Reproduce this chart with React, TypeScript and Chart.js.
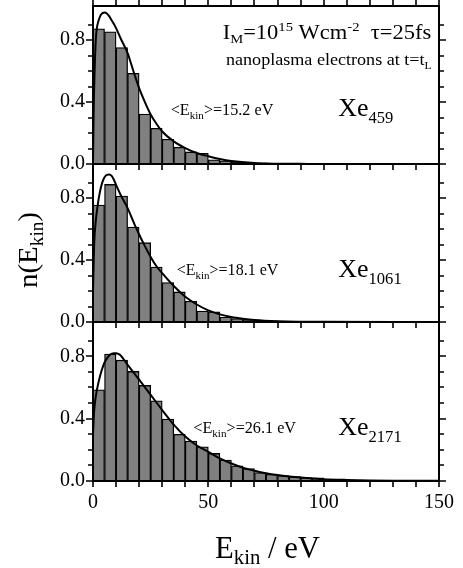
import React, { useEffect, useRef } from 'react';
import { Chart, registerables } from 'chart.js';

Chart.register(...registerables);

const FONT = "'Liberation Serif', 'Times New Roman', Times, serif";
const W = 463;
const H = 568;

// ---------- data ----------
const binCenters = [2.5, 7.5, 12.5, 17.5, 22.5, 27.5, 32.5, 37.5, 42.5, 47.5, 52.5, 57.5, 62.5, 67.5, 72.5, 77.5, 82.5, 87.5, 92.5, 97.5, 102.5, 107.5, 112.5, 117.5, 122.5, 127.5, 132.5, 137.5, 142.5, 147.5];

const histXe459 = [0.873, 0.854, 0.752, 0.585, 0.323, 0.23, 0.16, 0.108, 0.078, 0.069, 0.027, 0.021, 0.012, 0.007, 0.005, 0.004, 0.003, 0.002, 0.002, 0.001, 0.001, 0, 0, 0, 0, 0, 0, 0, 0, 0];
const histXe1061 = [0.755, 0.888, 0.813, 0.613, 0.512, 0.355, 0.254, 0.194, 0.134, 0.071, 0.066, 0.032, 0.022, 0.016, 0.011, 0.008, 0.006, 0.005, 0.004, 0.003, 0.002, 0.002, 0.001, 0.001, 0.001, 0, 0, 0, 0, 0];
const histXe2171 = [0.585, 0.815, 0.775, 0.703, 0.613, 0.514, 0.398, 0.299, 0.256, 0.219, 0.177, 0.134, 0.097, 0.08, 0.054, 0.043, 0.035, 0.028, 0.022, 0.02, 0.009, 0.007, 0.005, 0.004, 0.003, 0.002, 0.002, 0.001, 0.001, 0.001];

const fitE459 = [0, 0.3, 0.7, 1.2, 1.6, 2.5, 3.5, 5, 6, 7, 8, 10, 12, 15, 17.5, 20, 22.5, 25, 27.5, 30, 35, 40, 45, 50, 55, 60, 70, 80, 90, 100, 150];
const fitN459 = [0, 0.35, 0.6, 0.8, 0.87, 0.93, 0.965, 0.978, 0.972, 0.955, 0.93, 0.877, 0.81, 0.716, 0.6, 0.49, 0.4, 0.32, 0.26, 0.21, 0.146, 0.103, 0.071, 0.05, 0.032, 0.019, 0.006, 0.002, 0.001, 0, 0];

const fitE1061 = [0, 0.5, 1, 2, 3, 4, 5, 6, 7, 8, 9, 10, 12, 15, 18, 20, 22.5, 25, 27.5, 30, 35, 40, 45, 50, 55, 60, 65, 70, 80, 90, 100, 150];
const fitN1061 = [0.2, 0.5, 0.62, 0.75, 0.84, 0.9, 0.935, 0.95, 0.953, 0.945, 0.92, 0.885, 0.82, 0.735, 0.63, 0.565, 0.49, 0.42, 0.36, 0.315, 0.232, 0.163, 0.113, 0.075, 0.049, 0.032, 0.021, 0.013, 0.005, 0.002, 0.001, 0];

const fitE2171 = [0, 0.5, 1, 1.7, 3, 4, 5, 6, 7, 8, 9, 10, 11, 12, 15, 20, 25, 30, 35, 40, 45, 50, 55, 60, 65, 70, 75, 80, 85, 90, 100, 110, 120, 130, 150];
const fitN2171 = [0.3, 0.45, 0.52, 0.585, 0.67, 0.72, 0.76, 0.785, 0.805, 0.815, 0.82, 0.82, 0.815, 0.805, 0.745, 0.65, 0.553, 0.455, 0.362, 0.285, 0.228, 0.187, 0.145, 0.112, 0.085, 0.066, 0.05, 0.038, 0.029, 0.022, 0.012, 0.007, 0.004, 0.002, 0.001];

const yLabeledTicks = [0, 0.4, 0.8];
const yTickLabels = ['0.0', '0.4', '0.8'];
const xLabeledTicks = [0, 50, 100, 150];
const xTickLabels = ['0', '50', '100', '150'];

// ---------- text helpers ----------
type Seg = [string, number, number]; // text, font size, baseline shift (down +)
interface TextBox { segs: Seg[]; x: number; y: number; len: number; rot?: boolean }

function drawRich(ctx: CanvasRenderingContext2D, b: TextBox) {
  const widths = b.segs.map(([t, s]) => {
    ctx.font = `${s}px ${FONT}`;
    return ctx.measureText(t).width;
  });
  const natural = widths.reduce((a, c) => a + c, 0);
  const sx = b.len / natural;
  ctx.save();
  ctx.translate(b.x, b.y);
  if (b.rot) ctx.rotate(-Math.PI / 2);
  ctx.fillStyle = '#000';
  ctx.textAlign = 'left';
  ctx.textBaseline = 'alphabetic';
  let cx = 0;
  b.segs.forEach(([t, s, dy], i) => {
    ctx.save();
    ctx.font = `${s}px ${FONT}`;
    ctx.translate(cx, dy);
    ctx.scale(sx, 1);
    ctx.fillText(t, 0, 0);
    ctx.restore();
    cx += widths[i] * sx;
  });
  ctx.restore();
}

const ekin = (v: string): Seg[] => [['<E', 16, 0], ['kin', 11, 4], [`>=${v} eV`, 16, 0]];
const xe = (n: string): Seg[] => [['Xe', 25, 0], [n, 16, 7]];

interface Panel {
  top: number;
  bottom: number;
  hist: number[];
  fitE: number[];
  fitN: number[];
  texts: TextBox[];
  isFirst: boolean;
  isLast: boolean;
}

const panels: Panel[] = [
  {
    top: 6, bottom: 164, hist: histXe459, fitE: fitE459, fitN: fitN459, isFirst: true, isLast: false,
    texts: [
      { segs: [['I', 20, 0], ['M', 13, 4], ['=10', 20, 0], ['15', 13, -8], [' Wcm', 20, 0], ['-2', 13, -8], ['  \u03c4=25fs', 20, 0]], x: 222.7, y: 39.3, len: 208.5 },
      { segs: [['nanoplasma electrons at t=t', 17, 0], ['L', 11, 4]], x: 226, y: 65, len: 205.7 },
      { segs: ekin('15.2'), x: 170.7, y: 115, len: 102.6 },
      { segs: xe('459'), x: 338.3, y: 116, len: 55 },
    ],
  },
  {
    top: 164, bottom: 322, hist: histXe1061, fitE: fitE1061, fitN: fitN1061, isFirst: false, isLast: false,
    texts: [
      { segs: ekin('18.1'), x: 176.7, y: 275, len: 101.6 },
      { segs: xe('1061'), x: 338.3, y: 276.7, len: 63.4 },
    ],
  },
  {
    top: 322, bottom: 481, hist: histXe2171, fitE: fitE2171, fitN: fitN2171, isFirst: false, isLast: true,
    texts: [
      { segs: ekin('26.1'), x: 193.3, y: 433, len: 102.7 },
      { segs: xe('2171'), x: 338.3, y: 435, len: 63.4 },
      { segs: [['E', 31, 0], ['kin', 21, 6], [' / eV', 31, 0]], x: 215, y: 558, len: 105 },
      { segs: [['n(E', 27, 0], ['kin', 18, 6], [')', 27, 0]], x: 36.5, y: 288, len: 76, rot: true },
    ],
  },
];

const framePlugin = {
  id: 'frame',
  afterDraw(chart: any, _args: any, opts: any) {
    const { ctx, chartArea: a, scales } = chart;
    const xs = scales.x;
    const ys = scales.y;
    ctx.save();
    ctx.strokeStyle = '#000';
    ctx.lineWidth = 2;
    ctx.strokeRect(a.left, a.top, a.right - a.left, a.bottom - a.top);
    ctx.lineWidth = 1.6;
    ctx.beginPath();
    ys.ticks.forEach((t: any) => {
      if (t.value > 1.0001) return;
      const py = Math.round(ys.getPixelForValue(t.value));
      const major = yLabeledTicks.some((v) => Math.abs(v - t.value) < 1e-6);
      const len = major ? 7 : 5;
      ctx.moveTo(a.left - len, py);
      ctx.lineTo(a.left, py);
      ctx.moveTo(a.right, py);
      ctx.lineTo(a.right + len, py);
    });
    xs.ticks.forEach((t: any) => {
      const px = Math.round(xs.getPixelForValue(t.value));
      ctx.moveTo(px, a.bottom);
      ctx.lineTo(px, a.bottom + 6);
      if (opts.isFirst) {
        ctx.moveTo(px, a.top);
        ctx.lineTo(px, a.top - 6);
      }
    });
    ctx.stroke();
    (opts.texts as TextBox[]).forEach((b) => drawRich(ctx, b));
    ctx.restore();
  },
};

function makeChart(canvas: HTMLCanvasElement, p: Panel) {
  const xAxisH = 40;
  return new Chart(canvas, {
    type: 'bar',
    data: {
      datasets: [
        {
          type: 'line',
          data: p.fitE.map((e, i) => ({ x: e, y: p.fitN[i] })),
          borderColor: '#000',
          borderWidth: 2,
          pointRadius: 0,
          cubicInterpolationMode: 'monotone',
          fill: false,
          order: 0,
        } as any,
        {
          type: 'bar',
          data: binCenters.map((c, i) => ({ x: c, y: p.hist[i] })),
          backgroundColor: '#808080',
          borderColor: '#000',
          borderWidth: 1.3,
          barPercentage: 1,
          categoryPercentage: 1,
          order: 1,
        } as any,
      ],
    },
    options: {
      animation: false,
      responsive: false,
      events: [],
      layout: {
        padding: {
          left: 0,
          right: W - 439,
          top: p.top,
          bottom: p.isLast ? H - p.bottom - xAxisH : H - p.bottom,
        },
      },
      plugins: {
        legend: { display: false },
        tooltip: { enabled: false },
        frame: { texts: p.texts, isFirst: p.isFirst },
      } as any,
      scales: {
        x: {
          type: 'linear',
          min: 0,
          max: 150,
          offset: false,
          display: p.isLast,
          grid: { display: false, drawTicks: false },
          border: { display: false },
          ticks: {
            stepSize: 10,
            autoSkip: false,
            maxRotation: 0,
            minRotation: 0,
            padding: 10,
            color: '#000',
            font: { family: FONT, size: 20 },
            callback: (v: any) => {
              const i = xLabeledTicks.findIndex((t) => Math.abs(t - Number(v)) < 1e-6);
              return i >= 0 ? xTickLabels[i] : '';
            },
          },
          afterFit: (s: any) => {
            s.height = p.isLast ? xAxisH : 0;
            s.paddingLeft = 0;
            s.paddingRight = 0;
          },
        },
        y: {
          type: 'linear',
          min: 0,
          max: 1.02,
          grid: { display: false, drawTicks: false },
          border: { display: false },
          ticks: {
            stepSize: 0.1,
            autoSkip: false,
            padding: 8,
            color: '#000',
            font: { family: FONT, size: 20 },
            callback: (v: any) => {
              const i = yLabeledTicks.findIndex((t) => Math.abs(t - Number(v)) < 1e-6);
              return i >= 0 ? yTickLabels[i] : '';
            },
          },
          afterFit: (s: any) => {
            s.width = 93;
            s.paddingTop = 0;
            s.paddingBottom = 0;
          },
        },
      },
    } as any,
    plugins: [framePlugin],
  });
}

export default function App() {
  const r0 = useRef<HTMLCanvasElement>(null);
  const r1 = useRef<HTMLCanvasElement>(null);
  const r2 = useRef<HTMLCanvasElement>(null);

  useEffect(() => {
    const refs = [r0, r1, r2];
    const charts = panels.map((p, i) => makeChart(refs[i].current as HTMLCanvasElement, p));
    return () => charts.forEach((c) => c.destroy());
  }, []);

  const cs: React.CSSProperties = { position: 'absolute', left: 0, top: 0, width: W, height: H };
  return (
    <div style={{ position: 'absolute', left: 0, top: 0, width: W, height: H, background: '#fff', overflow: 'hidden' }}>
      <canvas ref={r0} width={W} height={H} style={cs} />
      <canvas ref={r1} width={W} height={H} style={cs} />
      <canvas ref={r2} width={W} height={H} style={cs} />
    </div>
  );
}
